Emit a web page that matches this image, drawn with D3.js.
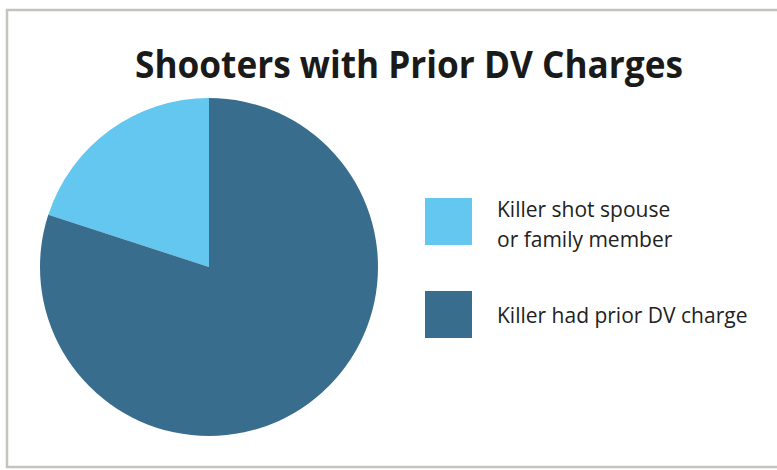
<!DOCTYPE html>
<html>
<head>
<meta charset="utf-8">
<script src="https://cdn.jsdelivr.net/npm/d3@7"></script>
<style>
  body { margin: 0; background: #fff; }
  svg { display: block; }
</style>
</head>
<body>
<div id="chart"></div>
<script>
// data
let categories = ["Killer shot spouse or family member", "Killer had prior DV charge"];
let legendLines = [["Killer shot spouse", "or family member"], ["Killer had prior DV charge"]];
let shares = [20, 80];
let colors = ["#63c7ef", "#396d8e"];

let width = 777;
let height = 470;

let svg = d3.select("#chart")
  .append("svg")
  .attr("width", width)
  .attr("height", height);

// frame
svg.append("rect")
  .attr("x", 7)
  .attr("y", 10)
  .attr("width", 800)
  .attr("height", 457)
  .attr("fill", "#fff")
  .attr("stroke", "#c4c4bc")
  .attr("stroke-width", 2.5);

// title
svg.append("text")
  .attr("x", 409)
  .attr("y", 78)
  .attr("text-anchor", "middle")
  .attr("font-family", "Open Sans, sans-serif")
  .attr("font-weight", "bold")
  .attr("font-size", 37)
  .attr("fill", "#1a1a1a")
  .attr("textLength", 548)
  .attr("lengthAdjust", "spacingAndGlyphs")
  .text("Shooters with Prior DV Charges");

// pie: light slice sits just left of 12 o'clock
let pie = d3.pie()
  .sort(null)
  .startAngle(-2 * Math.PI * shares[0] / d3.sum(shares))
  .endAngle(2 * Math.PI - 2 * Math.PI * shares[0] / d3.sum(shares))
  .value(d => d);

let arc = d3.arc().innerRadius(0).outerRadius(169);

svg.append("g")
  .attr("transform", "translate(209, 267)")
  .selectAll("path")
  .data(pie(shares))
  .enter()
  .append("path")
  .attr("d", arc)
  .attr("fill", (d, i) => colors[i]);

// legend
let legendY = d3.scalePoint()
  .domain(categories)
  .range([198, 291]);

let legend = svg.append("g")
  .selectAll("g")
  .data(categories)
  .enter()
  .append("g")
  .attr("transform", d => `translate(425, ${legendY(d)})`);

legend.append("rect")
  .attr("width", 47)
  .attr("height", 47)
  .attr("fill", (d, i) => colors[i]);

legend.each(function(d, i) {
  let lines = legendLines[i];
  let g = d3.select(this);
  lines.forEach((line, j) => {
    g.append("text")
      .attr("x", 72)
      .attr("y", lines.length > 1 ? 19 + j * 30 : 32)
      .attr("font-family", "Open Sans, sans-serif")
      .attr("font-size", 21)
      .attr("fill", "#222")
      .text(line);
  });
});
</script>
</body>
</html>
